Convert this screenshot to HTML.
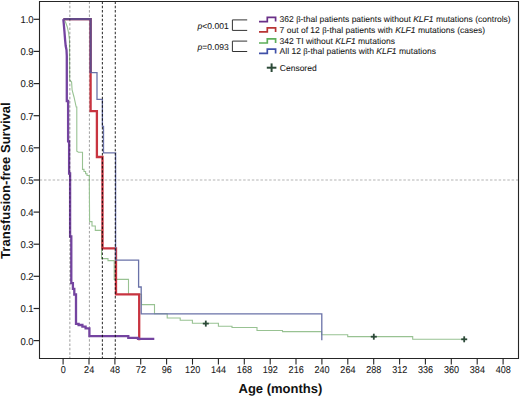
<!DOCTYPE html>
<html><head><meta charset="utf-8"><style>
html,body{margin:0;padding:0;background:#fff;width:520px;height:397px;overflow:hidden}
svg{display:block;font-family:'Liberation Sans', sans-serif;text-rendering:geometricPrecision}
</style></head><body>
<svg width="520" height="397" viewBox="0 0 520 397">
<rect width="520" height="397" fill="#fff"/>
<line x1="89.4" y1="1.45" x2="89.4" y2="358" stroke="#000" stroke-opacity="0.38" stroke-width="1" stroke-dasharray="2.5 1.83"/>
<polyline points="63.8,19.2 65.5,22.0 67.3,27.0 68.6,33.0 69.5,40.0 69.7,80.0 71.6,82.0 72.1,90.0 74.0,97.0 76.2,107.0 76.8,107.0 76.8,151.3 78.5,152.3 82.5,152.3 82.5,169.4 84.0,169.4 84.0,171.5 85.6,171.5 85.6,173.8 87.0,173.8 87.0,175.5 89.3,175.5 89.6,221.6 92.0,221.6 92.0,226.0 95.3,226.0 95.3,230.4 101.6,230.4 101.6,258.6 108.0,258.6 108.0,260.6 114.2,260.6 114.2,279.4 128.5,279.4 128.5,294.2 141.5,294.2 141.5,304.6 154.5,304.6 154.5,313.7 167.2,313.7 167.2,318.0 180.2,318.0 180.2,320.2 192.4,320.2 192.4,323.2 218.4,323.2 218.4,326.3 232.0,326.3 232.0,327.5 257.0,327.5 257.0,330.5 282.5,330.5 282.5,331.6 321.6,331.6 321.6,334.7 347.7,334.7 347.7,336.6 412.7,336.6 412.7,339.3 464.0,339.3" fill="none" stroke="#98c292" stroke-width="1.1" stroke-linejoin="miter"/>
<polyline points="63.5,19.2 90.6,19.2 90.6,111.1 96.9,111.1 96.9,157.0 102.5,157.0 102.5,248.4 116.0,248.4 116.0,294.4 139.2,294.4 139.2,340.2" fill="none" stroke="#c83440" stroke-width="2.3" stroke-linejoin="miter"/>
<polyline points="63.5,19.2 90.6,19.2 90.6,72.7 97.0,72.7 97.0,99.4 102.4,99.4 102.4,126.3 103.5,126.3 103.5,152.9 115.6,152.9 115.6,260.2 138.6,260.2 138.6,287.0 141.2,287.0 141.2,313.9 321.8,313.9 321.8,340.2" fill="none" stroke="#6a72a8" stroke-width="1.3" stroke-linejoin="miter"/>
<polyline points="63.5,19.2 90.6,19.2 90.6,72.7" fill="none" stroke="#644a88" stroke-width="2.2" stroke-linejoin="miter"/>
<polyline points="63.3,19.2 63.7,23.0 64.4,31.0 65.1,40.0 65.7,46.0 66.5,50.0 66.8,56.0 66.8,101.0 68.1,101.0 68.1,141.4 69.1,141.4 69.1,173.5 70.1,173.5 70.1,236.5 71.3,236.5 71.3,283.2 72.9,283.2 72.9,288.9 74.3,288.9 74.3,294.5 76.0,294.5 76.0,323.8 78.6,323.8 78.6,325.0 82.4,325.0 82.4,326.6 85.6,326.6 85.6,328.4 89.4,328.4 89.4,336.2 128.3,336.2 128.3,337.9 138.0,337.9 138.0,338.8 154.3,338.8" fill="none" stroke="#7444a0" stroke-width="2.3" stroke-linejoin="miter"/>
<line x1="39.65" y1="180" x2="518" y2="180" stroke="#000" stroke-opacity="0.3" stroke-width="1.2" stroke-dasharray="2.5 1.83"/>
<line x1="69.8" y1="1.45" x2="69.8" y2="358" stroke="#000" stroke-opacity="0.28" stroke-width="1.4" stroke-dasharray="2.5 1.83"/>
<line x1="102.4" y1="1.45" x2="102.4" y2="358" stroke="#000" stroke-opacity="0.78" stroke-width="1.1" stroke-dasharray="2.5 1.83"/>
<line x1="115.3" y1="1.45" x2="115.3" y2="358" stroke="#000" stroke-opacity="0.78" stroke-width="1.1" stroke-dasharray="2.5 1.83"/>
<line x1="202.8" y1="323.6" x2="208.8" y2="323.6" stroke="#2c4a38" stroke-width="1.8"/><line x1="205.8" y1="320.6" x2="205.8" y2="326.6" stroke="#2c4a38" stroke-width="1.8"/>
<line x1="370.8" y1="336.7" x2="376.8" y2="336.7" stroke="#2c4a38" stroke-width="1.8"/><line x1="373.8" y1="333.7" x2="373.8" y2="339.7" stroke="#2c4a38" stroke-width="1.8"/>
<line x1="461.2" y1="339.3" x2="467.2" y2="339.3" stroke="#2c4a38" stroke-width="1.8"/><line x1="464.2" y1="336.3" x2="464.2" y2="342.3" stroke="#2c4a38" stroke-width="1.8"/>
<path d="M39.5,1.5 H518.5 V358.5 H39.5 Z" fill="none" stroke="#262626" stroke-width="1.1"/>
<line x1="33.6" y1="340.6" x2="39.5" y2="340.6" stroke="#262626" stroke-width="1.2"/>
<text transform="translate(33.6,344.50) scale(0.95,1)" text-anchor="end" font-size="10" fill="#1a1a1a" stroke="#1a1a1a" stroke-width="0.08">0.0</text>
<line x1="33.6" y1="308.5" x2="39.5" y2="308.5" stroke="#262626" stroke-width="1.2"/>
<text transform="translate(33.6,312.37) scale(0.95,1)" text-anchor="end" font-size="10" fill="#1a1a1a" stroke="#1a1a1a" stroke-width="0.08">0.1</text>
<line x1="33.6" y1="276.3" x2="39.5" y2="276.3" stroke="#262626" stroke-width="1.2"/>
<text transform="translate(33.6,280.24) scale(0.95,1)" text-anchor="end" font-size="10" fill="#1a1a1a" stroke="#1a1a1a" stroke-width="0.08">0.2</text>
<line x1="33.6" y1="244.2" x2="39.5" y2="244.2" stroke="#262626" stroke-width="1.2"/>
<text transform="translate(33.6,248.11) scale(0.95,1)" text-anchor="end" font-size="10" fill="#1a1a1a" stroke="#1a1a1a" stroke-width="0.08">0.3</text>
<line x1="33.6" y1="212.1" x2="39.5" y2="212.1" stroke="#262626" stroke-width="1.2"/>
<text transform="translate(33.6,215.98) scale(0.95,1)" text-anchor="end" font-size="10" fill="#1a1a1a" stroke="#1a1a1a" stroke-width="0.08">0.4</text>
<line x1="33.6" y1="180.0" x2="39.5" y2="180.0" stroke="#262626" stroke-width="1.2"/>
<text transform="translate(33.6,183.85) scale(0.95,1)" text-anchor="end" font-size="10" fill="#1a1a1a" stroke="#1a1a1a" stroke-width="0.08">0.5</text>
<line x1="33.6" y1="147.8" x2="39.5" y2="147.8" stroke="#262626" stroke-width="1.2"/>
<text transform="translate(33.6,151.72) scale(0.95,1)" text-anchor="end" font-size="10" fill="#1a1a1a" stroke="#1a1a1a" stroke-width="0.08">0.6</text>
<line x1="33.6" y1="115.7" x2="39.5" y2="115.7" stroke="#262626" stroke-width="1.2"/>
<text transform="translate(33.6,119.59) scale(0.95,1)" text-anchor="end" font-size="10" fill="#1a1a1a" stroke="#1a1a1a" stroke-width="0.08">0.7</text>
<line x1="33.6" y1="83.6" x2="39.5" y2="83.6" stroke="#262626" stroke-width="1.2"/>
<text transform="translate(33.6,87.46) scale(0.95,1)" text-anchor="end" font-size="10" fill="#1a1a1a" stroke="#1a1a1a" stroke-width="0.08">0.8</text>
<line x1="33.6" y1="51.4" x2="39.5" y2="51.4" stroke="#262626" stroke-width="1.2"/>
<text transform="translate(33.6,55.33) scale(0.95,1)" text-anchor="end" font-size="10" fill="#1a1a1a" stroke="#1a1a1a" stroke-width="0.08">0.9</text>
<line x1="33.6" y1="19.3" x2="39.5" y2="19.3" stroke="#262626" stroke-width="1.2"/>
<text transform="translate(33.6,23.20) scale(0.95,1)" text-anchor="end" font-size="10" fill="#1a1a1a" stroke="#1a1a1a" stroke-width="0.08">1.0</text>
<line x1="63.1" y1="358.5" x2="63.1" y2="364.6" stroke="#262626" stroke-width="1.1"/>
<text transform="translate(63.25,373.1) scale(0.92,1)" text-anchor="middle" font-size="9.9" fill="#1a1a1a" stroke="#1a1a1a" stroke-width="0.08">0</text>
<line x1="89.0" y1="358.5" x2="89.0" y2="364.6" stroke="#262626" stroke-width="1.1"/>
<text transform="translate(89.13,373.1) scale(0.92,1)" text-anchor="middle" font-size="9.9" fill="#1a1a1a" stroke="#1a1a1a" stroke-width="0.08">24</text>
<line x1="114.9" y1="358.5" x2="114.9" y2="364.6" stroke="#262626" stroke-width="1.1"/>
<text transform="translate(115.01,373.1) scale(0.92,1)" text-anchor="middle" font-size="9.9" fill="#1a1a1a" stroke="#1a1a1a" stroke-width="0.08">48</text>
<line x1="140.7" y1="358.5" x2="140.7" y2="364.6" stroke="#262626" stroke-width="1.1"/>
<text transform="translate(140.89,373.1) scale(0.92,1)" text-anchor="middle" font-size="9.9" fill="#1a1a1a" stroke="#1a1a1a" stroke-width="0.08">72</text>
<line x1="166.6" y1="358.5" x2="166.6" y2="364.6" stroke="#262626" stroke-width="1.1"/>
<text transform="translate(166.78,373.1) scale(0.92,1)" text-anchor="middle" font-size="9.9" fill="#1a1a1a" stroke="#1a1a1a" stroke-width="0.08">96</text>
<line x1="192.5" y1="358.5" x2="192.5" y2="364.6" stroke="#262626" stroke-width="1.1"/>
<text transform="translate(192.66,373.1) scale(0.92,1)" text-anchor="middle" font-size="9.9" fill="#1a1a1a" stroke="#1a1a1a" stroke-width="0.08">120</text>
<line x1="218.4" y1="358.5" x2="218.4" y2="364.6" stroke="#262626" stroke-width="1.1"/>
<text transform="translate(218.54,373.1) scale(0.92,1)" text-anchor="middle" font-size="9.9" fill="#1a1a1a" stroke="#1a1a1a" stroke-width="0.08">144</text>
<line x1="244.3" y1="358.5" x2="244.3" y2="364.6" stroke="#262626" stroke-width="1.1"/>
<text transform="translate(244.42,373.1) scale(0.92,1)" text-anchor="middle" font-size="9.9" fill="#1a1a1a" stroke="#1a1a1a" stroke-width="0.08">168</text>
<line x1="270.2" y1="358.5" x2="270.2" y2="364.6" stroke="#262626" stroke-width="1.1"/>
<text transform="translate(270.30,373.1) scale(0.92,1)" text-anchor="middle" font-size="9.9" fill="#1a1a1a" stroke="#1a1a1a" stroke-width="0.08">192</text>
<line x1="296.0" y1="358.5" x2="296.0" y2="364.6" stroke="#262626" stroke-width="1.1"/>
<text transform="translate(296.18,373.1) scale(0.92,1)" text-anchor="middle" font-size="9.9" fill="#1a1a1a" stroke="#1a1a1a" stroke-width="0.08">216</text>
<line x1="321.9" y1="358.5" x2="321.9" y2="364.6" stroke="#262626" stroke-width="1.1"/>
<text transform="translate(322.07,373.1) scale(0.92,1)" text-anchor="middle" font-size="9.9" fill="#1a1a1a" stroke="#1a1a1a" stroke-width="0.08">240</text>
<line x1="347.8" y1="358.5" x2="347.8" y2="364.6" stroke="#262626" stroke-width="1.1"/>
<text transform="translate(347.95,373.1) scale(0.92,1)" text-anchor="middle" font-size="9.9" fill="#1a1a1a" stroke="#1a1a1a" stroke-width="0.08">264</text>
<line x1="373.7" y1="358.5" x2="373.7" y2="364.6" stroke="#262626" stroke-width="1.1"/>
<text transform="translate(373.83,373.1) scale(0.92,1)" text-anchor="middle" font-size="9.9" fill="#1a1a1a" stroke="#1a1a1a" stroke-width="0.08">288</text>
<line x1="399.6" y1="358.5" x2="399.6" y2="364.6" stroke="#262626" stroke-width="1.1"/>
<text transform="translate(399.71,373.1) scale(0.92,1)" text-anchor="middle" font-size="9.9" fill="#1a1a1a" stroke="#1a1a1a" stroke-width="0.08">312</text>
<line x1="425.4" y1="358.5" x2="425.4" y2="364.6" stroke="#262626" stroke-width="1.1"/>
<text transform="translate(425.59,373.1) scale(0.92,1)" text-anchor="middle" font-size="9.9" fill="#1a1a1a" stroke="#1a1a1a" stroke-width="0.08">336</text>
<line x1="451.3" y1="358.5" x2="451.3" y2="364.6" stroke="#262626" stroke-width="1.1"/>
<text transform="translate(451.47,373.1) scale(0.92,1)" text-anchor="middle" font-size="9.9" fill="#1a1a1a" stroke="#1a1a1a" stroke-width="0.08">360</text>
<line x1="477.2" y1="358.5" x2="477.2" y2="364.6" stroke="#262626" stroke-width="1.1"/>
<text transform="translate(477.36,373.1) scale(0.92,1)" text-anchor="middle" font-size="9.9" fill="#1a1a1a" stroke="#1a1a1a" stroke-width="0.08">384</text>
<line x1="503.1" y1="358.5" x2="503.1" y2="364.6" stroke="#262626" stroke-width="1.1"/>
<text transform="translate(503.24,373.1) scale(0.92,1)" text-anchor="middle" font-size="9.9" fill="#1a1a1a" stroke="#1a1a1a" stroke-width="0.08">408</text>
<text x="280.4" y="393.2" text-anchor="middle" font-size="13" font-weight="bold" fill="#111">Age (months)</text>
<text transform="translate(9.7,180.6) rotate(-90)" x="0" y="0" text-anchor="middle" font-size="13.05" font-weight="bold" fill="#111">Transfusion-free Survival</text>
<text x="197.6" y="28.8" font-size="8.53" fill="#1a1a1a" stroke="#1a1a1a" stroke-width="0.08"><tspan font-style="italic">p</tspan>&lt;0.001</text>
<text x="197.6" y="49.9" font-size="8.53" fill="#1a1a1a" stroke="#1a1a1a" stroke-width="0.08"><tspan font-style="italic">p</tspan>=0.093</text>
<path d="M247.2,19.9 H232.4 V30.4 H247.2" fill="none" stroke="#333" stroke-width="1"/>
<path d="M247.2,41.1 H232.4 V51.5 H247.2" fill="none" stroke="#333" stroke-width="1"/>
<path d="M259,21.6 H267.3 V17.4 H275.6 V21.6" fill="none" stroke="#6a3088" stroke-width="1.7"/>
<path d="M259,31.9 H267.3 V27.8 H275.6 V31.9" fill="none" stroke="#b83434" stroke-width="1.7"/>
<path d="M259,43.0 H267.3 V38.9 H275.6 V43.0" fill="none" stroke="#5eae5a" stroke-width="1.7"/>
<path d="M259,53.4 H267.3 V49.2 H275.6 V53.4" fill="none" stroke="#4050a8" stroke-width="1.7"/>
<text x="279.6" y="21.8" font-size="8.53" fill="#1a1a1a" stroke="#1a1a1a" stroke-width="0.08">362 <tspan font-family="'Liberation Serif', serif">β</tspan>-thal patients patients without <tspan font-style="italic">KLF1</tspan> mutations (controls)</text>
<text x="279.6" y="32.9" font-size="8.53" fill="#1a1a1a" stroke="#1a1a1a" stroke-width="0.08">7 out of 12 <tspan font-family="'Liberation Serif', serif">β</tspan>-thal patients with <tspan font-style="italic">KLF1</tspan> mutations (cases)</text>
<text x="279.6" y="43.5" font-size="8.53" fill="#1a1a1a" stroke="#1a1a1a" stroke-width="0.08">342 TI without <tspan font-style="italic">KLF1</tspan> mutations</text>
<text x="279.6" y="53.7" font-size="8.53" fill="#1a1a1a" stroke="#1a1a1a" stroke-width="0.08">All 12 <tspan font-family="'Liberation Serif', serif">β</tspan>-thal patients with <tspan font-style="italic">KLF1</tspan> mutations</text>
<line x1="266.8" y1="67.7" x2="276.40000000000003" y2="67.7" stroke="#2c4a38" stroke-width="2"/><line x1="271.6" y1="63.400000000000006" x2="271.6" y2="72.0" stroke="#2c4a38" stroke-width="2"/>
<text x="279.8" y="71.1" font-size="8.5" fill="#1a1a1a" stroke="#1a1a1a" stroke-width="0.08">Censored</text>
</svg>
</body></html>
